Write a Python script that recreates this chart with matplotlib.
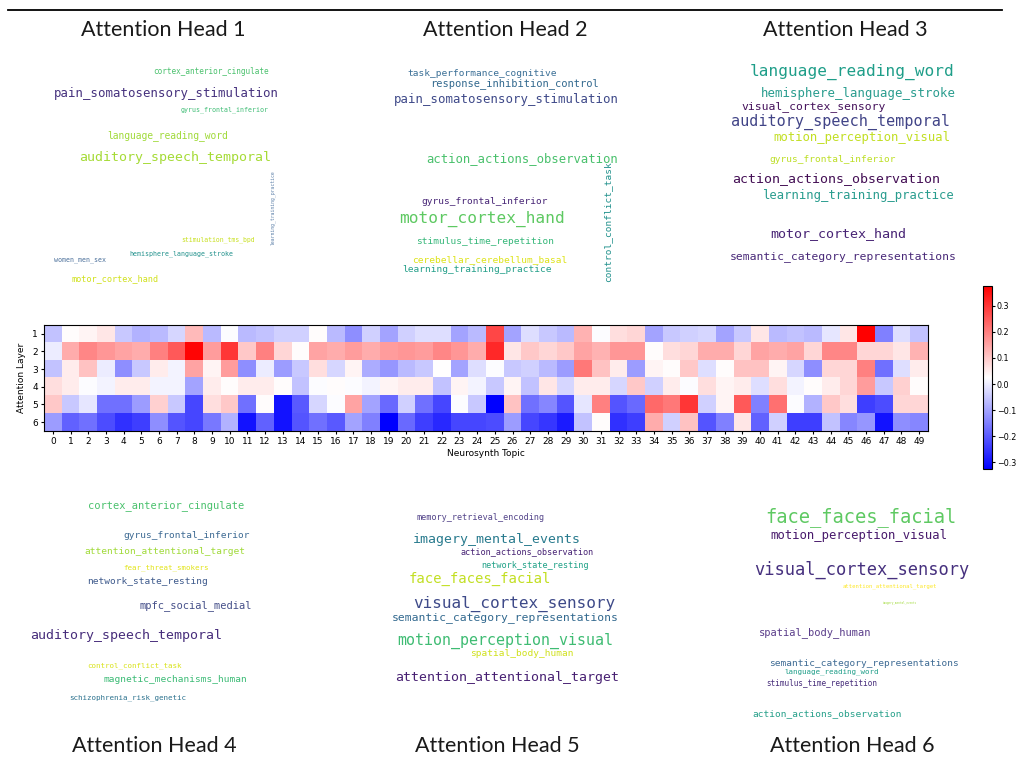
import matplotlib.pyplot as plt
import numpy as np

# attention-layer x neurosynth-topic weights (rows = layers 1..6, cols = topics 0..49)
layer1 = [-0.06, 0.03, 0.04, 0.06, -0.05, -0.08, -0.07, -0.03, 0.12, -0.07,
          0.02, -0.07, -0.06, -0.04, -0.04, 0.03, -0.07, -0.13, -0.04, -0.10,
          -0.04, -0.02, -0.02, -0.10, -0.07, 0.28, -0.10, -0.02, -0.05, -0.07,
          0.13, 0.02, 0.07, 0.08, -0.10, -0.05, -0.04, -0.03, -0.10, -0.05,
          0.06, -0.07, -0.06, -0.07, -0.01, 0.06, 0.376, -0.15, -0.02, -0.06]
layer2 = [0.00, 0.14, 0.19, 0.17, 0.15, 0.14, 0.20, 0.25, 0.37, 0.16,
          0.30, 0.10, 0.20, 0.08, 0.03, 0.15, 0.14, 0.16, 0.14, 0.16,
          0.17, 0.16, 0.19, 0.17, 0.14, 0.32, 0.06, 0.10, 0.08, 0.10,
          0.15, 0.13, 0.17, 0.17, 0.03, 0.07, 0.08, 0.14, 0.14, 0.08,
          0.15, 0.14, 0.15, 0.08, 0.19, 0.19, 0.08, 0.08, 0.06, 0.13]
layer3 = [-0.06, 0.05, 0.11, 0.00, -0.13, -0.05, 0.05, 0.01, 0.15, 0.04,
          0.16, -0.13, 0.00, -0.11, -0.05, 0.07, -0.03, 0.04, -0.09, -0.12,
          -0.07, -0.05, 0.025, -0.10, -0.02, 0.02, -0.05, -0.04, -0.07, -0.11,
          0.21, 0.11, 0.05, -0.11, 0.04, 0.03, 0.10, -0.02, 0.03, 0.11,
          0.11, 0.04, -0.03, -0.13, 0.08, 0.08, 0.20, -0.17, -0.02, 0.05]
layer4 = [0.07, 0.05, 0.02, 0.01, 0.05, 0.05, 0.01, 0.01, -0.10, 0.05,
          0.03, 0.05, 0.05, 0.03, -0.06, 0.02, 0.03, 0.02, 0.01, 0.04,
          0.05, 0.05, -0.06, 0.04, 0.01, -0.05, 0.04, -0.06, 0.06, -0.03,
          0.05, 0.05, -0.03, 0.10, -0.04, 0.05, 0.02, 0.07, 0.04, 0.05,
          -0.02, 0.07, 0.01, 0.03, 0.05, 0.08, 0.16, -0.05, 0.09, 0.03]
layer5 = [0.10, -0.05, -0.01, -0.17, -0.17, -0.11, 0.09, -0.05, -0.23, 0.07,
          0.10, -0.17, 0.03, -0.30, -0.20, -0.03, 0.02, 0.15, -0.10, -0.18,
          -0.04, -0.17, -0.23, 0.02, -0.05, -0.326, 0.11, -0.17, -0.14, -0.21,
          -0.01, 0.20, -0.21, -0.18, 0.23, 0.21, 0.30, -0.04, 0.04, 0.25,
          -0.15, 0.22, 0.02, -0.08, 0.10, 0.07, -0.24, -0.22, 0.08, 0.08]
layer6 = [-0.11, -0.19, -0.17, -0.22, -0.26, -0.24, -0.13, -0.21, -0.23, -0.16,
          -0.08, -0.30, -0.19, -0.30, -0.21, -0.17, -0.20, -0.10, -0.15, -0.326,
          -0.18, -0.24, -0.27, -0.23, -0.23, -0.22, -0.11, -0.23, -0.25, -0.29,
          -0.06, 0.03, -0.26, -0.24, 0.14, -0.04, 0.11, -0.21, -0.15, 0.06,
          -0.19, -0.04, -0.24, -0.24, -0.06, -0.14, -0.12, -0.30, -0.13, -0.14]
weights = np.array([layer1, layer2, layer3, layer4, layer5, layer6])
topics = list(range(50))
layers = [1, 2, 3, 4, 5, 6]
cbar_ticks = [-0.3, -0.2, -0.1, 0.0, 0.1, 0.2, 0.3]

head_titles = ["Attention Head 1", "Attention Head 2", "Attention Head 3",
               "Attention Head 4", "Attention Head 5", "Attention Head 6"]

# word clouds: (word, x px, y px, font size, colour, rotation)
head1_words = [
    ("cortex_anterior_cingulate", 211, 71, 5.5, "#4ac16d", 0),
    ("pain_somatosensory_stimulation", 166, 94, 8.9, "#46327e", 0),
    ("gyrus_frontal_inferior", 225, 110, 4.8, "#3dbc74", 0),
    ("language_reading_word", 168, 136, 6.9, "#a0da39", 0),
    ("auditory_speech_temporal", 175, 158, 9.5, "#a5db36", 0),
    ("learning_training_practice", 273, 208, 3.4, "#5b7fa8", 90),
    ("stimulation_tms_bpd", 218, 240, 4.7, "#c8e020", 0),
    ("hemisphere_language_stroke", 181, 254, 4.8, "#21918c", 0),
    ("women_men_sex", 80, 260, 4.8, "#4a6f9a", 0),
    ("motor_cortex_hand", 115, 279, 6.1, "#d0e11c", 0),
]
head2_words = [
    ("task_performance_cognitive", 482, 73, 6.8, "#3a6f96", 0),
    ("response_inhibition_control", 515, 84, 7.45, "#31688e", 0),
    ("pain_somatosensory_stimulation", 506, 100, 8.9, "#3e4989", 0),
    ("action_actions_observation", 522, 159, 8.85, "#4ac16d", 0),
    ("control_conflict_task", 608, 222, 6.8, "#21918c", 90),
    ("gyrus_frontal_inferior", 485, 201, 6.8, "#482677", 0),
    ("motor_cortex_hand", 482, 219, 11.6, "#5ec962", 0),
    ("stimulus_time_repetition", 485, 242, 6.8, "#35b779", 0),
    ("cerebellar_cerebellum_basal", 490, 260, 6.8, "#dde318", 0),
    ("learning_training_practice", 477, 270, 6.8, "#25a08a", 0),
]
head3_words = [
    ("language_reading_word", 852, 72, 11.6, "#1f9e89", 0),
    ("hemisphere_language_stroke", 858, 94, 8.9, "#2a9d8f", 0),
    ("visual_cortex_sensory", 814, 107, 8.2, "#45115b", 0),
    ("auditory_speech_temporal", 840, 122, 10.9, "#414487", 0),
    ("motion_perception_visual", 862, 137, 8.85, "#c2df23", 0),
    ("gyrus_frontal_inferior", 833, 159, 6.8, "#bddf26", 0),
    ("action_actions_observation", 836, 179, 9.5, "#440f55", 0),
    ("learning_training_practice", 858, 196, 8.8, "#2a9d8f", 0),
    ("motor_cortex_hand", 838, 234, 9.6, "#482475", 0),
    ("semantic_category_representations", 843, 257, 8.2, "#482878", 0),
]
head4_words = [
    ("cortex_anterior_cingulate", 166, 506, 7.5, "#4ac16d", 0),
    ("gyrus_frontal_inferior", 187, 535, 6.8, "#3e6b94", 0),
    ("attention_attentional_target", 165, 552, 6.8, "#a0da39", 0),
    ("fear_threat_smokers", 166, 568, 5.4, "#e2e418", 0),
    ("network_state_resting", 148, 581, 6.8, "#3e5a8c", 0),
    ("mpfc_social_medial", 196, 606, 7.5, "#46508a", 0),
    ("auditory_speech_temporal", 126, 636, 9.5, "#472d7b", 0),
    ("control_conflict_task", 134, 666, 5.4, "#d8e219", 0),
    ("magnetic_mechanisms_human", 175, 679, 6.8, "#3bbb75", 0),
    ("schizophrenia_risk_genetic", 128, 698, 5.4, "#2c728e", 0),
]
head5_words = [
    ("memory_retrieval_encoding", 481, 517, 6.1, "#54458a", 0),
    ("imagery_mental_events", 497, 539, 9.5, "#297b8e", 0),
    ("action_actions_observation", 527, 552, 6.1, "#482475", 0),
    ("network_state_resting", 535, 565, 6.1, "#1fa187", 0),
    ("face_faces_facial", 480, 579, 10.1, "#c2df23", 0),
    ("visual_cortex_sensory", 514, 604, 11.5, "#3e4a89", 0),
    ("semantic_category_representations", 505, 618, 8.2, "#31688e", 0),
    ("motion_perception_visual", 505, 641, 10.8, "#3fbc73", 0),
    ("spatial_body_human", 522, 654, 6.8, "#d0e11c", 0),
    ("attention_attentional_target", 507, 677, 9.5, "#482173", 0),
]
head6_words = [
    ("face_faces_facial", 861, 517, 13.5, "#5ec962", 0),
    ("motion_perception_visual", 859, 536, 8.85, "#481a6c", 0),
    ("visual_cortex_sensory", 862, 570, 12.25, "#46307e", 0),
    ("attention_attentional_target", 890, 586, 4.1, "#fde725", 0),
    ("imagery_mental_events", 900, 603, 2.0, "#a0da39", 0),
    ("spatial_body_human", 815, 633, 7.5, "#5a3d8a", 0),
    ("semantic_category_representations", 864, 663, 6.8, "#3e6b94", 0),
    ("language_reading_word", 832, 672, 5.4, "#1f9e89", 0),
    ("stimulus_time_repetition", 822, 684, 5.5, "#472d7b", 0),
    ("action_actions_observation", 827, 714, 6.8, "#26a08a", 0),
]

W, H = 1017, 766
fig = plt.figure(figsize=(W / 100, H / 100), dpi=100)


def fx(x):
    return x / W


def fy(y):
    return 1 - y / H


# top rule
fig.add_artist(plt.Line2D([fx(8), fx(1002)], [fy(10), fy(10)], color="black", lw=1.3))

# head titles
title_pos = [(163, 30), (505, 30), (845, 30), (154, 746), (497, 746), (852, 746)]
for t, (x, y) in zip(head_titles, title_pos):
    fig.text(fx(x), fy(y), t, ha="center", va="center", fontsize=15.5,
             family="Lato", fontweight="normal", color="#1a1a1a")

# word clouds
for words in [head1_words, head2_words, head3_words, head4_words, head5_words, head6_words]:
    for w, x, y, s, c, r in words:
        fig.text(fx(x), fy(y), w, ha="center", va="center", fontsize=s,
                 family="DejaVu Sans Mono", color=c, rotation=r)

# heatmap
ax = fig.add_axes([fx(44), fy(431), (928 - 44) / W, (431 - 325) / H])
im = ax.imshow(weights, cmap="bwr", aspect="auto", interpolation="nearest")
ax.set_xticks(topics)
ax.set_xticklabels([str(t) for t in topics], fontsize=6.5)
ax.set_yticks(range(len(layers)))
ax.set_yticklabels([str(l) for l in layers], fontsize=6.5)
ax.set_xlabel("Neurosynth Topic", fontsize=6.5, labelpad=2)
ax.set_ylabel("Attention Layer", fontsize=6.5, labelpad=4)
ax.tick_params(length=2.5, pad=2)

cax = fig.add_axes([fx(983), fy(469), 9 / W, (469 - 286) / H])
cb = fig.colorbar(im, cax=cax, ticks=cbar_ticks)
cb.ax.tick_params(labelsize=5.8, length=2, pad=1.5)

fig.savefig("out.png", dpi=100)
